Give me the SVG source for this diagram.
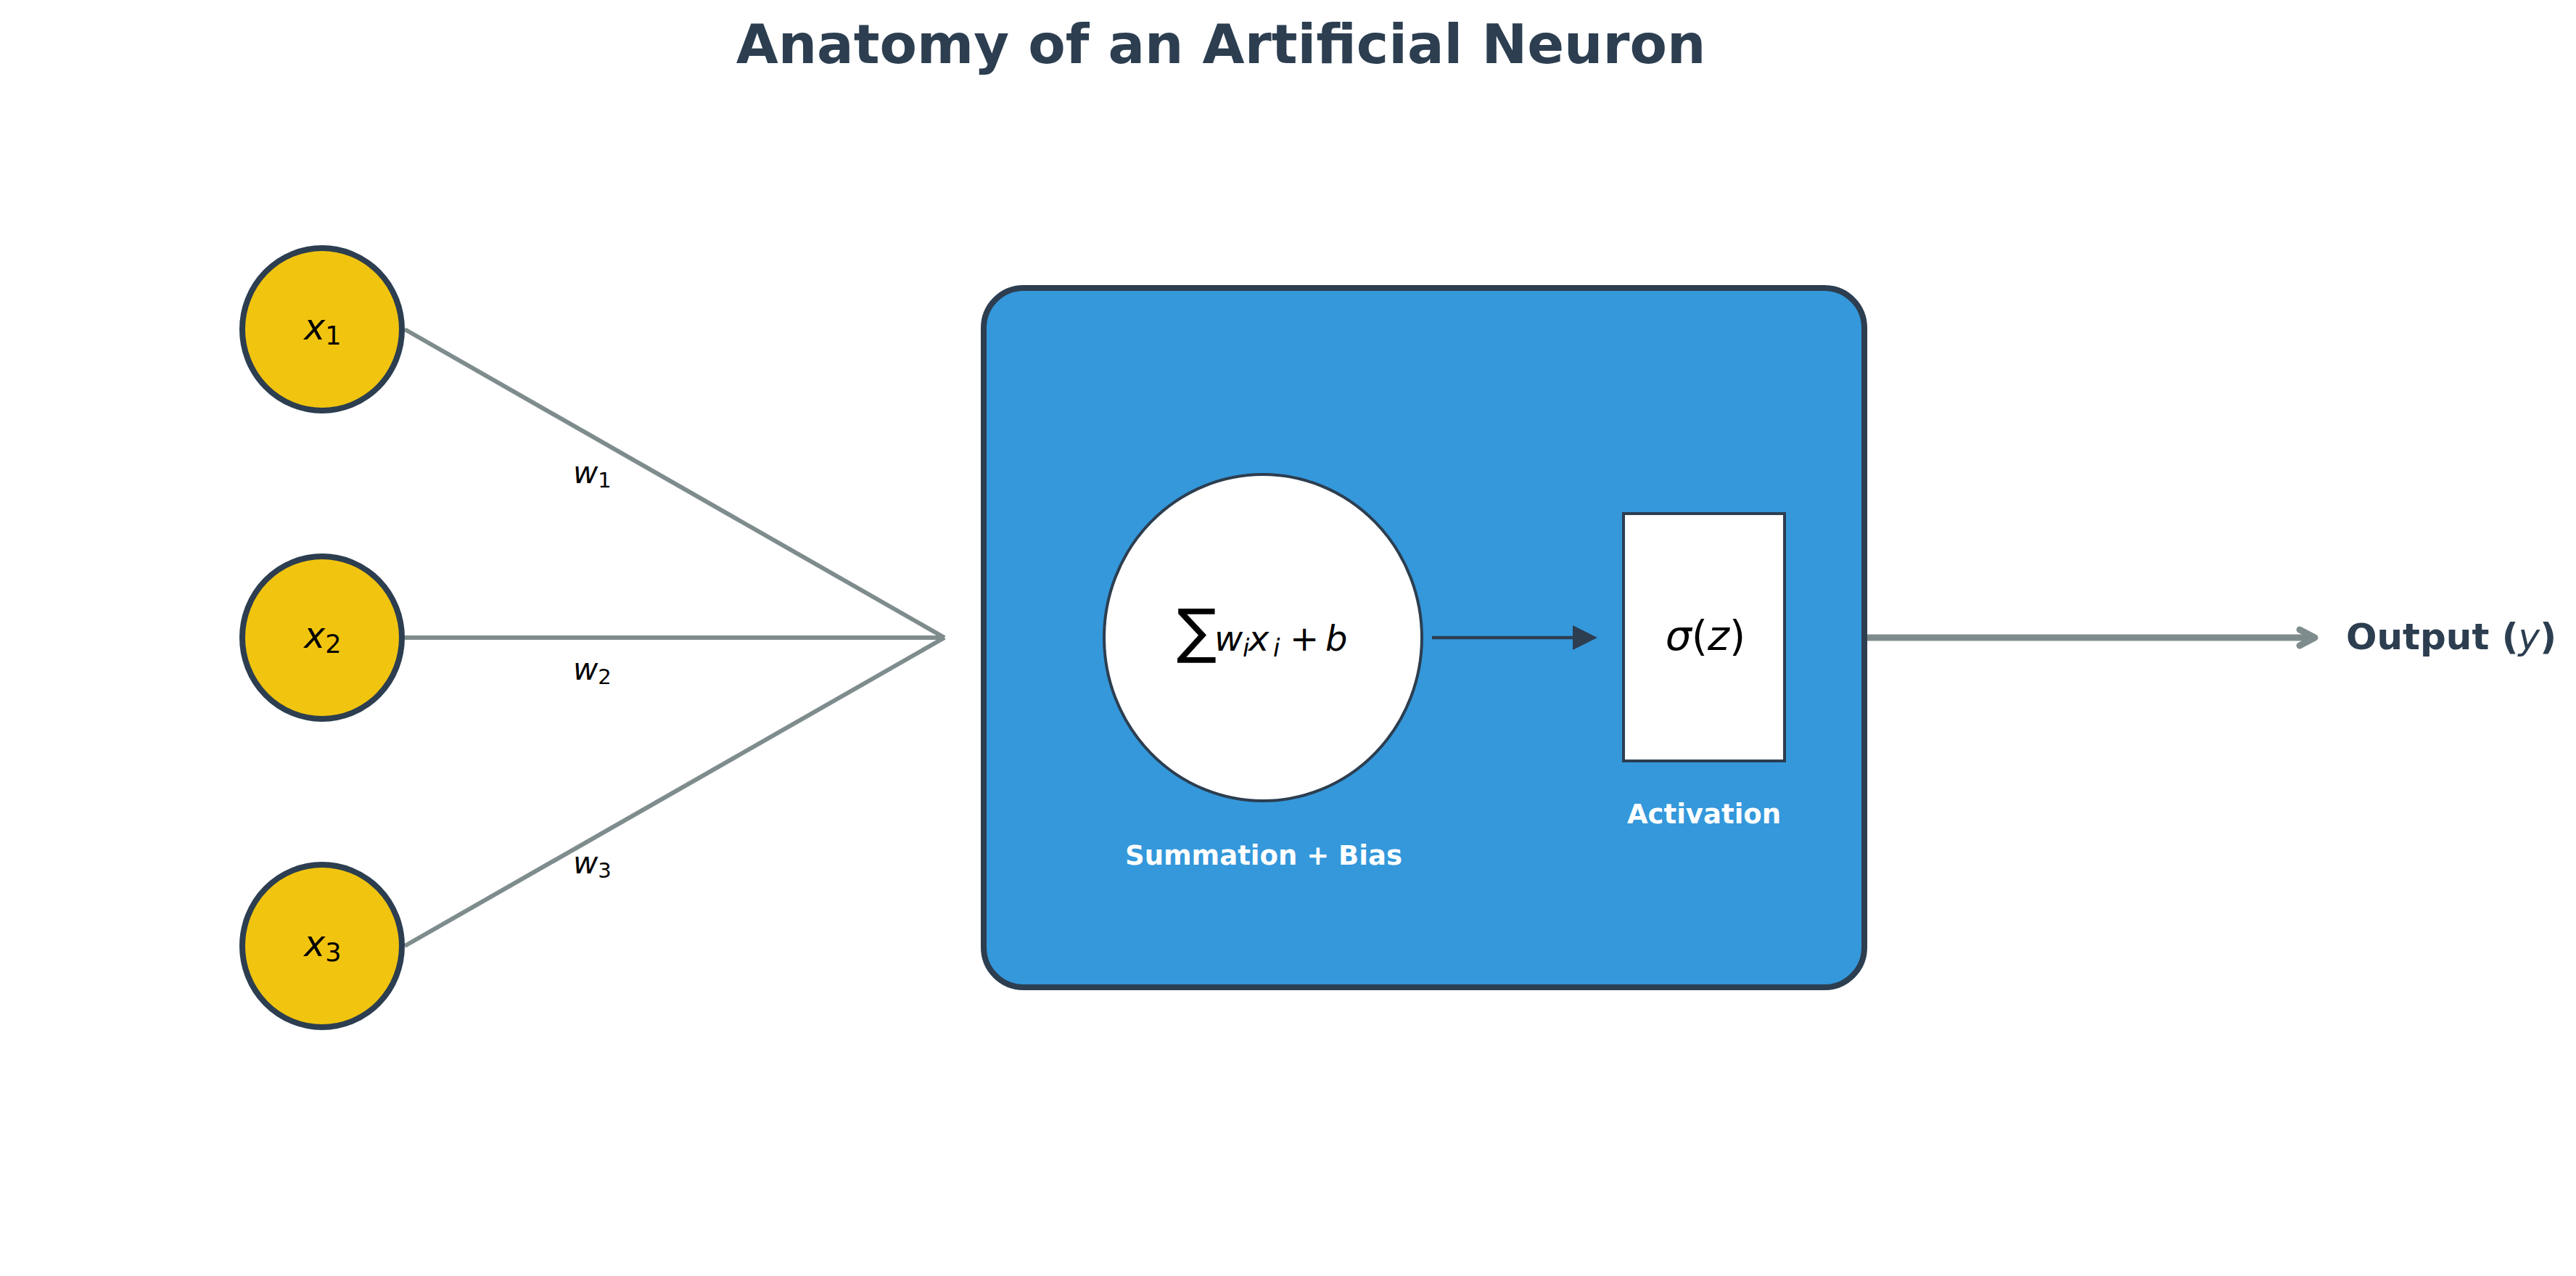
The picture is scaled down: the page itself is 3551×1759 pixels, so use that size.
<svg xmlns="http://www.w3.org/2000/svg" width="3551" height="1759" viewBox="0 0 3551 1759">
<style>
.title{font-family:"DejaVu Sans","Liberation Sans",sans-serif;font-weight:bold;fill:#2c3e50}
.math{font-family:"DejaVu Sans","Liberation Sans",sans-serif;fill:#000}
.it{font-style:italic}
.lbl{font-family:"DejaVu Sans","Liberation Sans",sans-serif;font-weight:bold;fill:#ffffff;font-size:37px}
.inp{fill:#f1c40f;stroke:#2c3e50;stroke-width:8}
.wire{stroke:#7f8c8d;stroke-width:6;fill:none}
</style>
<rect width="3551" height="1759" fill="#ffffff"/>
<text class="title" x="1683" y="87" font-size="75" text-anchor="middle">Anatomy of an Artificial Neuron</text>

<g id="connectors">
  <line class="wire" x1="558" y1="454" x2="1302" y2="879"/>
  <line class="wire" x1="558" y1="879" x2="1302" y2="879"/>
  <line class="wire" x1="558" y1="1304" x2="1302" y2="879"/>
  <g id="out-arrow" stroke="#7f8c8d" stroke-width="9" stroke-linecap="round" stroke-linejoin="round" fill="none">
    <path d="M2575 879 H3190"/>
    <path d="M3170 868 L3191 879 L3170 890"/>
  </g>
</g>

<g id="weights" class="math">
  <text x="790" y="666" font-size="42"><tspan class="it">w</tspan><tspan font-size="29" dy="6">1</tspan></text>
  <text x="790" y="937" font-size="42"><tspan class="it">w</tspan><tspan font-size="29" dy="6">2</tspan></text>
  <text x="790" y="1204" font-size="42"><tspan class="it">w</tspan><tspan font-size="29" dy="6">3</tspan></text>
</g>

<g id="x1">
  <ellipse class="inp" cx="444" cy="454" rx="110" ry="112"/>
  <text class="math" x="445" y="468" font-size="49" text-anchor="middle"><tspan class="it">x</tspan><tspan font-size="35" dy="7">1</tspan></text>
</g>
<g id="x2">
  <ellipse class="inp" cx="444" cy="879" rx="110" ry="112"/>
  <text class="math" x="445" y="893" font-size="49" text-anchor="middle"><tspan class="it">x</tspan><tspan font-size="35" dy="7">2</tspan></text>
</g>
<g id="x3">
  <ellipse class="inp" cx="444" cy="1304" rx="110" ry="112"/>
  <text class="math" x="445" y="1318" font-size="49" text-anchor="middle"><tspan class="it">x</tspan><tspan font-size="35" dy="7">3</tspan></text>
</g>

<g id="neuron">
  <rect x="1356" y="397" width="1214" height="964" rx="55" ry="55" fill="#3498db" stroke="#2c3e50" stroke-width="8"/>
  <g id="summation">
    <ellipse cx="1741" cy="879" rx="219" ry="225" fill="#ffffff" stroke="#2c3e50" stroke-width="4"/>
    <text class="math" x="1622" y="898" font-size="82">∑</text>
    <text class="math" y="897" font-size="48"><tspan class="it" x="1674">w</tspan><tspan class="it" x="1713" font-size="34" dy="8">i</tspan><tspan class="it" x="1721" dy="-8">x</tspan><tspan class="it" x="1755" font-size="34" dy="8">i</tspan><tspan x="1778" dy="-8">+</tspan><tspan class="it" x="1827">b</tspan></text>
    <text class="lbl" x="1742" y="1192" text-anchor="middle">Summation + Bias</text>
  </g>
  <g id="inner-arrow">
    <line x1="1974" y1="879" x2="2170" y2="879" stroke="#2c3e50" stroke-width="4.5"/>
    <polygon points="2168,862 2202,879 2168,896" fill="#2c3e50"/>
  </g>
  <g id="activation">
    <rect x="2238" y="708" width="222" height="341" fill="#ffffff" stroke="#2c3e50" stroke-width="4"/>
    <text class="math" x="2351" y="896" font-size="57" text-anchor="middle"><tspan class="it">σ</tspan>(<tspan class="it">z</tspan>)</text>
    <text class="lbl" x="2349" y="1135" text-anchor="middle">Activation</text>
  </g>
</g>

<g id="output">
  <text class="title" x="3234" y="895" font-size="50">Output (<tspan font-weight="normal" font-style="italic">y</tspan>)</text>
</g>
</svg>
